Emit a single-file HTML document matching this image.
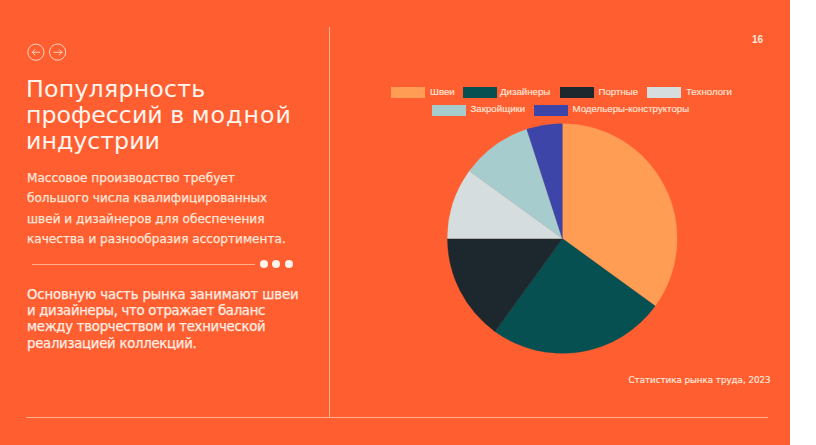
<!DOCTYPE html>
<html lang="ru">
<head>
<meta charset="utf-8">
<title>Популярность профессий в модной индустрии</title>
<style>
html,body{margin:0;padding:0;background:#fff;}
body{width:816px;height:445px;overflow:hidden;position:relative;}
.slide{position:absolute;left:0;top:0;width:790px;height:445px;background:#FF5F30;overflow:hidden;font-family:"DejaVu Sans","Liberation Sans",sans-serif;color:#fff;}
.abs{position:absolute;white-space:nowrap;}
.nav{position:absolute;top:0;left:0;}
.title{position:absolute;left:26px;top:76px;font-size:23.7px;line-height:26px;color:#FFF6F0;white-space:nowrap;}
.title .w{letter-spacing:1px;}
.p1{position:absolute;left:27px;top:168px;font-size:12.1px;line-height:20.4px;color:#FFE6DA;white-space:nowrap;-webkit-text-stroke:0.25px #FFE6DA;}
.p2{position:absolute;left:27px;top:287.3px;font-size:13.3px;line-height:16.1px;letter-spacing:-0.17px;color:#FFEDE4;white-space:nowrap;-webkit-text-stroke:0.25px #FFEDE4;}
.num{position:absolute;left:752px;top:34px;font-family:"Liberation Sans",sans-serif;font-weight:bold;font-size:10px;line-height:12px;color:#FFE6DA;}
.cap{position:absolute;left:628.5px;top:375px;font-size:8.7px;color:#FFE6DA;white-space:nowrap;-webkit-text-stroke:0.2px #FFE6DA;}
.vline{position:absolute;left:329px;top:27px;width:1px;height:391px;background:rgba(255,230,205,0.6);}
.hline{position:absolute;left:26px;top:417px;width:742px;height:1px;background:rgba(255,230,205,0.6);}
.sline{position:absolute;left:32px;top:264px;width:223px;height:1px;background:rgba(255,230,205,0.6);}
.dot{position:absolute;top:260.3px;width:8px;height:8px;border-radius:50%;background:#FFF3EC;}
.lg{position:absolute;font-family:"Liberation Sans",sans-serif;font-size:9.7px;color:#FFE6DA;white-space:nowrap;-webkit-text-stroke:0.15px #FFE6DA;}
.sw{position:absolute;width:34px;height:11px;}
</style>
</head>
<body>
<div class="slide">
  <svg class="nav" width="80" height="70" viewBox="0 0 80 70">
    <g fill="none" stroke="#FFD2BE" stroke-width="1">
      <circle cx="35.9" cy="52.2" r="8.1"/>
      <circle cx="57.6" cy="52.1" r="8.1"/>
      <path d="M39.6 52.3H32.3M34.9 49.6L32.3 52.3L34.9 55" stroke-linecap="round" stroke-linejoin="round"/>
      <path d="M54 52.3H62M59.3 49.6L62 52.3L59.3 55" stroke-linecap="round" stroke-linejoin="round"/>
    </g>
  </svg>
  <div class="title"><span style="letter-spacing:0.2px">Популярность</span><br>профессий в <span class="w">модной</span><br>индустрии</div>
  <div class="p1">Массовое производство требует<br>большого числа квалифицированных<br>швей и дизайнеров для обеспечения<br>качества и разнообразия ассортимента.</div>
  <div class="sline"></div>
  <div class="dot" style="left:260.3px"></div>
  <div class="dot" style="left:272.4px"></div>
  <div class="dot" style="left:284.5px"></div>
  <div class="p2"><span style="letter-spacing:-0.14px">Основную часть рынка занимают швеи</span><br><span style="letter-spacing:-0.33px">и дизайнеры, что отражает баланс</span><br><span style="letter-spacing:-0.28px">между творчеством и технической</span><br><span style="letter-spacing:-0.29px">реализацией коллекций.</span></div>
  <div class="vline"></div>
  <div class="hline"></div>
  <div class="num">16</div>

  <!-- legend -->
  <div class="sw" style="left:391px;top:87px;background:#FF9D55"></div>
  <div class="lg" style="left:430px;top:85.5px">Швеи</div>
  <div class="sw" style="left:462.5px;top:87px;background:#075052"></div>
  <div class="lg" style="left:500px;top:85.5px">Дизайнеры</div>
  <div class="sw" style="left:560px;top:87px;background:#1C272E"></div>
  <div class="lg" style="left:598.5px;top:85.5px">Портные</div>
  <div class="sw" style="left:647px;top:87px;background:#D5DDDF"></div>
  <div class="lg" style="left:686px;top:85.5px">Технологи</div>
  <div class="sw" style="left:432px;top:104.5px;background:#A6CCCE"></div>
  <div class="lg" style="left:470.5px;top:103px">Закройщики</div>
  <div class="sw" style="left:534px;top:104.5px;background:#3D45A8"></div>
  <div class="lg" style="left:572.5px;top:103px">Модельеры-конструкторы</div>

  <svg class="abs" style="left:0;top:0" width="790" height="445" viewBox="0 0 790 445" id="pie">
<path d="M562.3 238.5L562.30 123.70A114.8 114.8 0 0 1 655.18 305.98Z" fill="#FF9D55" stroke="#FF9D55" stroke-width="0.4"/>
<path d="M562.3 238.5L655.18 305.98A114.8 114.8 0 0 1 494.82 331.38Z" fill="#075052" stroke="#075052" stroke-width="0.4"/>
<path d="M562.3 238.5L494.82 331.38A114.8 114.8 0 0 1 447.50 238.50Z" fill="#1C272E" stroke="#1C272E" stroke-width="0.4"/>
<path d="M562.3 238.5L447.50 238.50A114.8 114.8 0 0 1 469.42 171.02Z" fill="#D5DDDF" stroke="#D5DDDF" stroke-width="0.4"/>
<path d="M562.3 238.5L469.42 171.02A114.8 114.8 0 0 1 526.82 129.32Z" fill="#A6CCCE" stroke="#A6CCCE" stroke-width="0.4"/>
<path d="M562.3 238.5L526.82 129.32A114.8 114.8 0 0 1 562.30 123.70Z" fill="#3D45A8" stroke="#3D45A8" stroke-width="0.4"/>
</svg>

  <div class="cap">Статистика рынка труда, 2023</div>
</div>
</body>
</html>
